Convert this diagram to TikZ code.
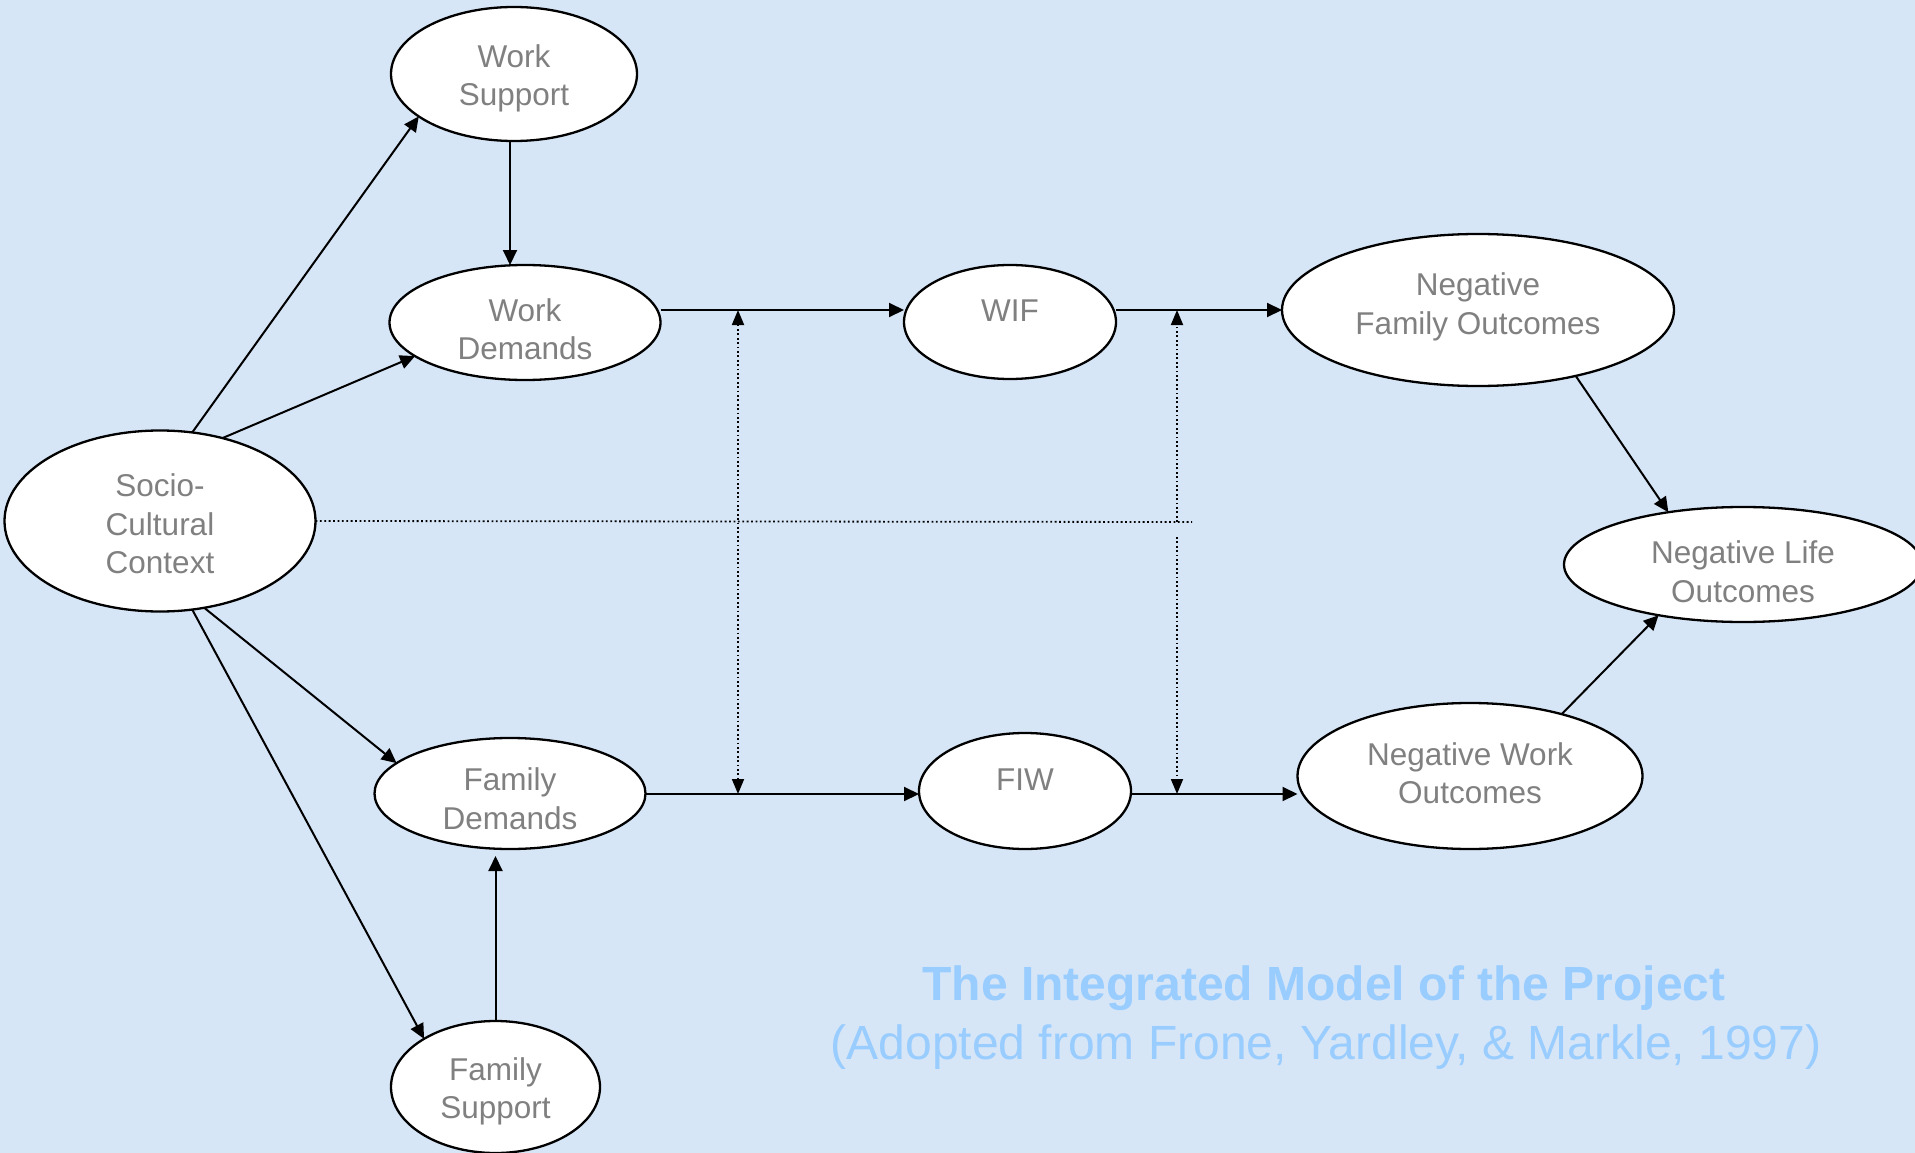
\documentclass[tikz,border=0pt]{standalone}
\usepackage{fontspec}
\setmainfont{Liberation Sans}
\usetikzlibrary{arrows.meta,shapes.geometric}
\definecolor{bgblue}{RGB}{214,230,247}
\definecolor{txtgray}{RGB}{128,128,128}
\definecolor{capblue}{RGB}{153,204,255}
\begin{document}
\begin{tikzpicture}[x=1pt,y=-1pt,
  ell/.style={ellipse,draw=black,line width=2.3pt,fill=white,inner sep=0pt,outer sep=0pt},
  lbl/.style={inner sep=0pt,text=txtgray,align=center,font=\fontsize{31.5}{38.5}\selectfont},
  arr/.style={line width=2pt,-{Triangle[length=15pt,width=14pt]}},
  dotline/.style={line width=1.8pt,dash pattern=on 1.8pt off 2.6pt},
  dtip/.style={-{Triangle[length=15pt,width=12pt]}},
  captext/.style={text=capblue,anchor=base,font=\fontsize{48}{58}\selectfont}]
\fill[bgblue] (0,0) rectangle (1915,1153);
\useasboundingbox (0,0) rectangle (1915,1153);

% ellipses
\node[ell,minimum width=246pt,minimum height=134pt] (ws) at (514,74) {};
\node[ell,minimum width=271pt,minimum height=115pt] (wd) at (525,322.5) {};
\node[ell,minimum width=212pt,minimum height=114pt] (wif) at (1010,322) {};
\node[ell,minimum width=392pt,minimum height=152pt] (nfo) at (1478,310) {};
\node[ell,minimum width=358pt,minimum height=115pt] (nlo) at (1743,564.5) {};
\node[ell,minimum width=345pt,minimum height=146pt] (nwo) at (1470,776) {};
\node[ell,minimum width=212pt,minimum height=116pt] (fiw) at (1025,791) {};
\node[ell,minimum width=271pt,minimum height=111pt] (fd) at (510,793.5) {};
\node[ell,minimum width=209pt,minimum height=132pt] (fs) at (495.5,1087) {};
\node[ell,minimum width=311pt,minimum height=181pt] (scc) at (160,521) {};

% texts
\node[lbl] (ws-t) at ([yshift=-4.3pt]ws.center) {Work\\Support};
\node[lbl] (wd-t) at ([yshift=-6.7pt]wd.center) {Work\\Demands};
\node[lbl] (wif-t) at ([yshift=11.3pt]wif.center) {WIF};
\node[lbl] (nfo-t) at ([yshift=3pt]nfo.center) {Negative\\Family Outcomes};
\node[lbl] (nlo-t) at ([yshift=-7pt]nlo.center) {Negative Life\\Outcomes};
\node[lbl] (nwo-t) at ([yshift=3pt]nwo.center) {Negative Work\\Outcomes};
\node[lbl] (fiw-t) at ([yshift=11.5pt]fiw.center) {FIW};
\node[lbl] (fd-t) at ([yshift=-5pt]fd.center) {Family\\Demands};
\node[lbl] (fs-t) at ([yshift=-4.3pt]fs.center) {Family\\Support};
\node[lbl] (scc-t) at ([yshift=-3pt]scc.center) {Socio-\\Cultural\\Context};

% dotted helper coordinates
\coordinate (d1t) at (738,310);
\coordinate (d1b) at (738,794);
\coordinate (hd) at (1192,522);
\coordinate (d2t) at (1177,310);
\coordinate (d2m1) at (1177,522);
\coordinate (d2m2) at (1177,537);
\coordinate (d2b) at (1177,794);

% solid connectors
\draw[arr] (scc.70) -- (ws.204);
\draw[arr] (scc.53) -- (wd.197);
\draw[arr] (scc.297) -- (fd.165);
\draw[arr] (scc.290) -- (fs.146);
\draw[arr] ([xshift=-4pt]ws.south) -- ([xshift=-4pt]ws.south |- wd.north);
\draw[arr] (fs.north) -- ([yshift=-7pt]fs.north |- fd.south);
\draw[arr] ([yshift=12.5pt]wd.east) -- ([yshift=12pt]wif.west);
\draw[arr] ([yshift=12pt]wif.east) -- (nfo.west);
\draw[arr] ([yshift=-0.5pt]fd.east) -- ([yshift=-0.5pt]fd.east -| fiw.west);
\draw[arr] ([yshift=-3pt]fiw.east) -- ([yshift=-3pt]fiw.east -| nwo.west);
\draw[arr] (nfo.326) -- (nlo.145);
\draw[arr] (nwo.34) -- (nlo.211);

% dotted connectors
\draw[dotline] (scc.east) -- (hd);
\draw[dotline,{Triangle[length=15pt,width=12pt]}-{Triangle[length=15pt,width=12pt]}] (d1t) -- (d1b);
\draw[dotline,dtip] (d2m1) -- (d2t);
\draw[dotline,dtip] (d2m2) -- (d2b);

% caption
\node[captext] (cap1) at (1324,1000) {\textbf{The Integrated Model of the Project}};
\node[captext] (cap2) at (1326,1059) {(Adopted from Frone, Yardley, \& Markle, 1997)};
\end{tikzpicture}
\end{document}
